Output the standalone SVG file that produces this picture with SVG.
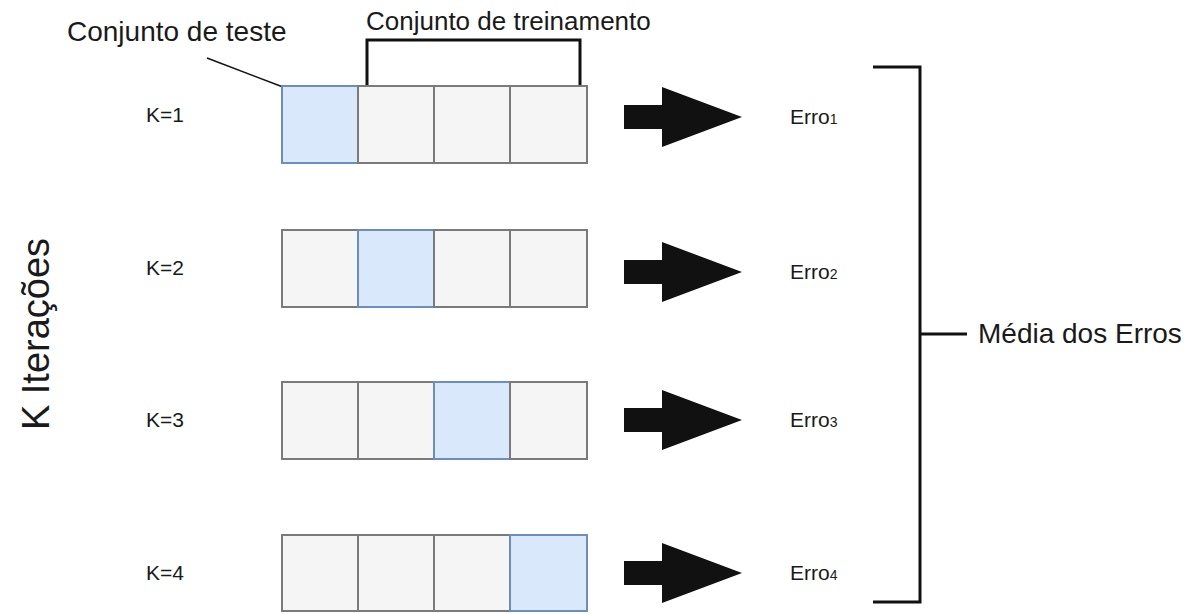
<svg xmlns="http://www.w3.org/2000/svg" width="1197" height="614" viewBox="0 0 1197 614">
<defs>
<style>
text{font-family:"Liberation Sans",Arial,sans-serif;fill:#1a1a1a}
.lbl{font-size:21px}
.sub{font-size:14px}
.big{font-size:26px}
.cell{fill:#f5f5f5;stroke:#7a7a7a;stroke-width:2}
.test{fill:#dae8fc;stroke:#6c8ebf;stroke-width:2}
.arrow{fill:#111}
.brk{fill:none;stroke:#111;stroke-width:3}
</style>
<g id="arrowShape"><path class="arrow" d="M624,-12 H662 V-30 L742,0 L662,30 V12 H624 Z"/></g>
</defs>
<rect width="1197" height="614" fill="#fff"/>
<text x="67" y="41" style="font-size:28px">Conjunto de teste</text>
<text class="big" x="366" y="30">Conjunto de treinamento</text>
<text transform="translate(49,334) rotate(-90)" text-anchor="middle" style="font-size:38px">K Iterações</text>
<g id="connectors">
<line x1="207" y1="58" x2="283" y2="87" stroke="#111" stroke-width="1.5"/>
<path class="brk" d="M367,86 V40 H580 V86"/>
<path class="brk" d="M873,67 H920 V602 H873 M920,334 H967"/>
<use href="#arrowShape" transform="translate(0,117)"/>
<use href="#arrowShape" transform="translate(0,272)"/>
<use href="#arrowShape" transform="translate(0,420)"/>
<use href="#arrowShape" transform="translate(0,573)"/>
</g>
<g id="row1">
<text class="lbl" x="146" y="122">K=1</text>
<rect class="test" x="282" y="86" width="76" height="77"/>
<rect class="cell" x="358" y="86" width="76" height="77"/>
<rect class="cell" x="434" y="86" width="76" height="77"/>
<rect class="cell" x="510" y="86" width="77" height="77"/>
<text class="lbl" x="790" y="124">Erro<tspan class="sub">1</tspan></text>
</g>
<g id="row2">
<text class="lbl" x="146" y="275">K=2</text>
<rect class="cell" x="282" y="230" width="76" height="77"/>
<rect class="test" x="358" y="230" width="76" height="77"/>
<rect class="cell" x="434" y="230" width="76" height="77"/>
<rect class="cell" x="510" y="230" width="77" height="77"/>
<text class="lbl" x="790" y="279">Erro<tspan class="sub">2</tspan></text>
</g>
<g id="row3">
<text class="lbl" x="146" y="427">K=3</text>
<rect class="cell" x="282" y="382" width="76" height="77"/>
<rect class="cell" x="358" y="382" width="76" height="77"/>
<rect class="test" x="434" y="382" width="76" height="77"/>
<rect class="cell" x="510" y="382" width="77" height="77"/>
<text class="lbl" x="790" y="427">Erro<tspan class="sub">3</tspan></text>
</g>
<g id="row4">
<text class="lbl" x="146" y="580">K=4</text>
<rect class="cell" x="282" y="535" width="76" height="76"/>
<rect class="cell" x="358" y="535" width="76" height="76"/>
<rect class="cell" x="434" y="535" width="76" height="76"/>
<rect class="test" x="510" y="535" width="77" height="76"/>
<text class="lbl" x="790" y="580">Erro<tspan class="sub">4</tspan></text>
</g>
<g id="media">
<text x="978" y="343" style="font-size:28px">Média dos Erros</text>
</g>
</svg>
